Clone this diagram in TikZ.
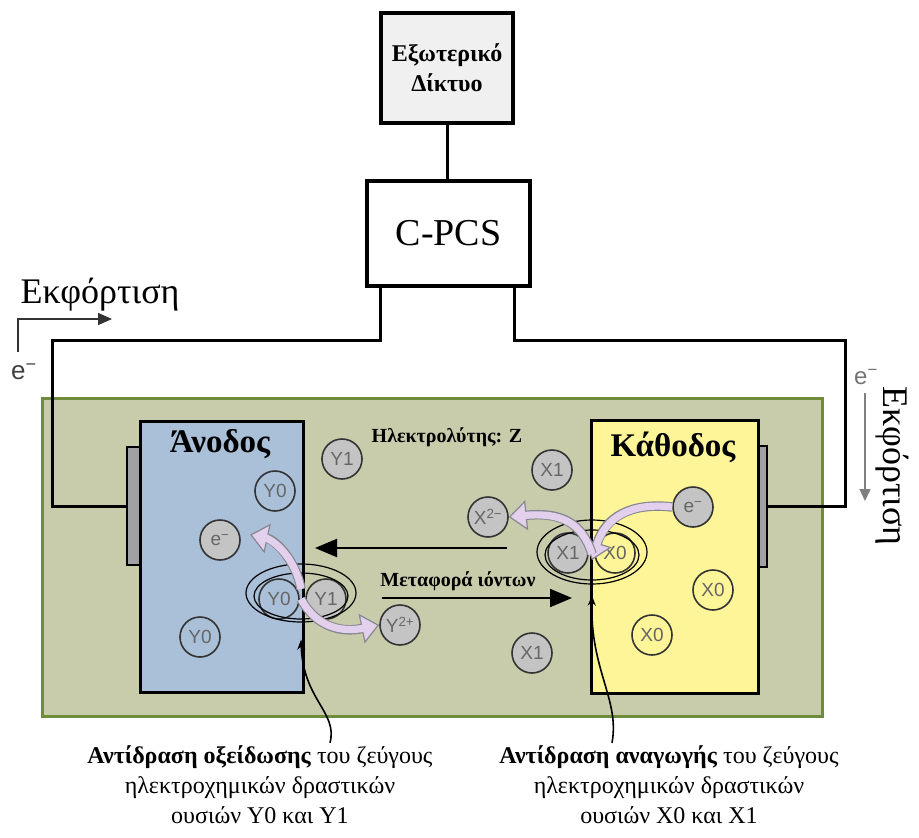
\documentclass[tikz,border=0pt]{standalone}
\usepackage{fontspec}
\setmainfont{Liberation Serif}
\setsansfont{Liberation Sans}
\usepackage{tikz}
\usetikzlibrary{arrows.meta, shapes.geometric}

\definecolor{elytefill}{RGB}{201,204,170}
\definecolor{elytedraw}{RGB}{110,140,60}
\definecolor{anodefill}{RGB}{170,191,216}
\definecolor{cathfill}{RGB}{253,245,152}
\definecolor{ionfill}{RGB}{196,196,196}
\definecolor{lav}{RGB}{226,208,236}
\definecolor{arrgray}{RGB}{135,135,145}
\definecolor{platefill}{RGB}{160,160,165}

\begin{document}
\begin{tikzpicture}[
	    x=1pt, y=-1pt,
	    box/.style={draw, line width=3.5pt, inner sep=0pt},
	    wire/.style={line width=3pt},
	    electrode/.style={draw, line width=3pt, inner sep=0pt},
	    plate/.style={draw, line width=1.5pt, fill=platefill, inner sep=0pt},
	    spec/.style={circle, draw=black!80, line width=1.6pt, minimum size=40pt, inner sep=0pt, text=black!60, font=\sffamily\fontsize{19}{19}\selectfont},
	    ion/.style={spec, fill=ionfill},
	    pair/.style={ellipse, draw, line width=1.2pt, inner sep=0pt},
	    fat/.style={draw=arrgray, line width=9.5pt, -{Triangle[length=18pt, width=30pt, line width=1.2pt, fill=lav]}, postaction={draw=lav, line width=7.2pt, arrows=-, shorten >=15pt}},
	    flow/.style={line width=2pt, -{Triangle[length=22pt, width=18pt]}},
	    pointer/.style={line width=1.6pt, -{Stealth[length=10pt, width=8pt]}},
	    lbl/.style={inner sep=0pt, font=\bfseries\fontsize{20}{20}\selectfont},
	    note/.style={inner sep=0pt, align=center, font=\fontsize{24}{30}\selectfont},
	    dchg/.style={inner sep=0pt, font=\fontsize{36}{36}\selectfont, anchor=base}
	]
		\useasboundingbox (0,0) rectangle (919,838);

		\node[box, fill=black!6, minimum width=132pt, minimum height=110pt, align=center, font=\bfseries\fontsize{24}{30}\selectfont] (ext) at (447,68) {Εξωτερικό\\Δίκτυο};
		\node[box, fill=white, minimum width=163pt, minimum height=105pt, font=\fontsize{38}{38}\selectfont] (cpcs) at (448.5,233.5) {C-PCS};

		\node[draw=elytedraw, fill=elytefill, line width=3pt, minimum width=780pt, minimum height=318pt] (elyte) at (432,557) {};

		\node[plate, minimum width=13pt, minimum height=118pt] (aplate) at (133.5,506) {};
		\node[plate, minimum width=10pt, minimum height=121pt] (cplate) at (762,506.5) {};
		\node[electrode, fill=anodefill, minimum width=163pt, minimum height=271pt] (anode) at (221.5,556.5) {};
		\node[electrode, fill=cathfill, minimum width=167pt, minimum height=273pt] (cathode) at (674.5,556.5) {};

		\coordinate (wl) at (52,340);
		\coordinate (wr) at (845,340);
		\draw[wire] (ext.south) -- (ext.south |- cpcs.north);
		\draw[wire] ([xshift=15pt]cpcs.south west) |- (wl) |- (aplate.west);
		\draw[wire] ([xshift=-17pt]cpcs.south east) |- (wr) |- (cplate.east);

		\node[inner sep=0pt, font=\bfseries\fontsize{33}{33}\selectfont] (anlbl) at (220,444) {Άνοδος};
		\node[inner sep=0pt, font=\bfseries\fontsize{33}{33}\selectfont] (calbl) at (673,447) {Κάθοδος};
		\node[lbl] (ellbl) at (447,437) {Ηλεκτρολύτης: Z};
		\node[lbl] (iolbl) at (458,581) {Μεταφορά ιόντων};

		\node[ion] (y1a) at (342,459) {Y1};
		\node[spec] (y0a) at (275,491) {Y0};
		\node[ion] (ea) at (220,540) {e\textsuperscript{−}};
		\node[spec] (y0b) at (279,599) {Y0};
		\node[ion] (y1b) at (326,599) {Y1};
		\node[spec] (y0c) at (200,637) {Y0};
		\node[ion] (ytwo) at (400,625) {Y\textsuperscript{2+}};

		\node[ion] (x1a) at (552,470) {X1};
		\node[ion] (xtwo) at (488,517) {X\textsuperscript{2−}};
		\node[ion] (x1b) at (568,553) {X1};
		\node[spec] (x0a) at (615,553) {X0};
		\node[ion] (ec) at (693,507) {e\textsuperscript{−}};
		\node[spec] (x0b) at (713,590) {X0};
		\node[spec] (x0c) at (652,635) {X0};
		\node[ion] (x1c) at (532,653) {X1};

		\node[pair, minimum width=110pt, minimum height=58pt] (ypair) at (301,593) {};
		\node[pair, minimum width=94pt, minimum height=46pt] (ypairin) at (301,596) {};
		\node[pair, minimum width=110pt, minimum height=64pt] (xpair) at (592,552) {};
		\node[pair, minimum width=94pt, minimum height=50pt] (xpairin) at (592,555) {};

		\coordinate (fls) at (507,548);
		\coordinate (flt) at (315,548);
		\coordinate (frs) at (382,598);
		\coordinate (frt) at (572,598);
		\draw[flow] (fls) -- (flt);
		\draw[flow] (frs) -- (frt);

		\draw[fat] ([yshift=4pt]ypair.center) .. controls (296,560) and (275,540) .. ([xshift=10pt]ea.15);
		\draw[fat] ([yshift=-6pt]ypair.center) .. controls (318,630) and (345,632) .. (ytwo.west);
		\draw[fat] (ec.west) .. controls (630,502) and (605,518) .. ([yshift=-8pt]xpair.center);
		\draw[fat] ([yshift=-2pt]xpair.center) .. controls (582,522) and (560,512) .. (xtwo.east);

		\node[note] (oxtext) at (260,785) {\textbf{Αντίδραση οξείδωσης} του ζεύγους\\ηλεκτροχημικών δραστικών\\ουσιών Y0 και Y1};
		\node[note] (redtext) at (669,785) {\textbf{Αντίδραση αναγωγής} του ζεύγους\\ηλεκτροχημικών δραστικών\\ουσιών X0 και X1};

		\draw[pointer] ([xshift=70pt, yshift=3pt]oxtext.north) .. controls (338,712) and (303,700) .. ([yshift=-17pt]ypair.south);
		\draw[pointer] ([xshift=-57pt, yshift=3pt]redtext.north) .. controls (620,700) and (590,670) .. ([yshift=-11pt]xpair.south);

		\node[dchg] (dchl) at (100,303) {Εκφόρτιση};
		\node[dchg, rotate=-90] (dchr) at (883,466) {Εκφόρτιση};
		\node[inner sep=0pt, text=black!75, font=\sffamily\fontsize{26}{26}\selectfont] (el) at (24,372) {e\textsuperscript{−}};
		\node[inner sep=0pt, text=black!55, font=\sffamily\fontsize{24}{24}\selectfont] (er) at (866,377) {e\textsuperscript{−}};
		\coordinate (sl) at (18,352);
		\coordinate (tl) at (112,319);
		\coordinate (sr) at (865,393);
		\coordinate (tr) at (865,501);
		\draw[line width=1.5pt, black!80, -{Triangle[length=14pt, width=12pt]}] (sl) |- (tl);
		\draw[line width=1.5pt, black!50, -{Triangle[length=12pt, width=11pt]}] (sr) -- (tr);
	\end{tikzpicture}
\end{document}
